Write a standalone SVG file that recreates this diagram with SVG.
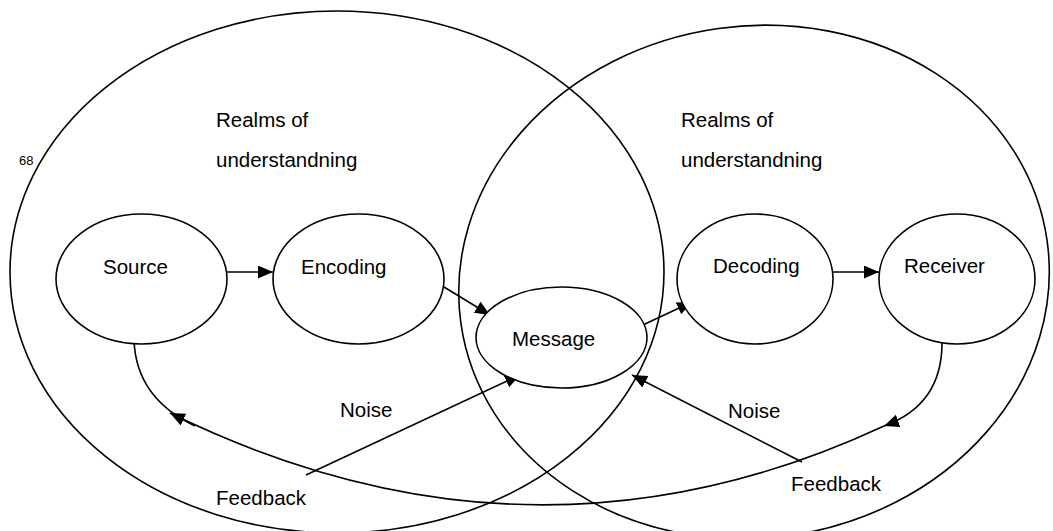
<svg xmlns="http://www.w3.org/2000/svg" width="1053" height="531" viewBox="0 0 1053 531">
<style>
.o{fill:none;stroke:#000;stroke-width:1.6}
.n{fill:#fff;stroke:#000;stroke-width:1.6}
.c{fill:none;stroke:#000;stroke-width:1.6}
text{font-family:"Liberation Sans",Arial,sans-serif;font-size:20.5px;fill:#000}
.s{font-size:13px}
</style>
<defs>
<marker id="ah" markerUnits="userSpaceOnUse" markerWidth="16" markerHeight="14" refX="15" refY="6.5" orient="auto">
<path d="M0,0 L15,6.5 L0,13 z" fill="#000"/>
</marker>
</defs>
<g id="realm-left">
<ellipse class="o" cx="337" cy="272" rx="327" ry="261"/>
<text x="216" y="127">Realms of</text>
<text x="216" y="167">understandning</text>
</g>
<g id="realm-right">
<ellipse class="o" cx="754" cy="282" rx="296" ry="256" transform="rotate(-8 754 282)"/>
<text x="681" y="127">Realms of</text>
<text x="681" y="167">understandning</text>
</g>
<text class="s" x="19" y="165">68</text>
<g id="connectors">
<line class="c" x1="227" y1="272" x2="273" y2="272" marker-end="url(#ah)"/>
<line class="c" x1="833" y1="272" x2="879" y2="272" marker-end="url(#ah)"/>
<line class="c" x1="444" y1="287" x2="490" y2="315" marker-end="url(#ah)"/>
<line class="c" x1="630" y1="331" x2="692" y2="302" marker-end="url(#ah)"/>
<line class="c" x1="306" y1="475" x2="520" y2="375" marker-end="url(#ah)"/>
<line class="c" x1="802" y1="462" x2="632" y2="375" marker-end="url(#ah)"/>
<path class="c" d="M134,340 Q136,398 195,426"/>
<path class="c" d="M942,343 Q942,405 884,426" marker-end="url(#ah)"/>
<path class="c" d="M884,426 Q532,590 170,413" marker-end="url(#ah)"/>
</g>
<g id="source"><ellipse class="n" cx="141.5" cy="279" rx="85.5" ry="65"/><text x="103" y="274">Source</text></g>
<g id="encoding"><ellipse class="n" cx="358.5" cy="279" rx="85.5" ry="65"/><text x="301" y="274">Encoding</text></g>
<g id="message"><ellipse class="n" cx="561.5" cy="337.5" rx="85.5" ry="50.5"/><text x="512" y="346">Message</text></g>
<g id="decoding"><ellipse class="n" cx="755" cy="279" rx="78" ry="65"/><text x="713" y="273">Decoding</text></g>
<g id="receiver"><ellipse class="n" cx="957" cy="279" rx="78" ry="65"/><text x="904" y="273">Receiver</text></g>
<text x="340" y="417">Noise</text>
<text x="728" y="418">Noise</text>
<text x="216" y="505">Feedback</text>
<text x="791" y="491">Feedback</text>
</svg>
